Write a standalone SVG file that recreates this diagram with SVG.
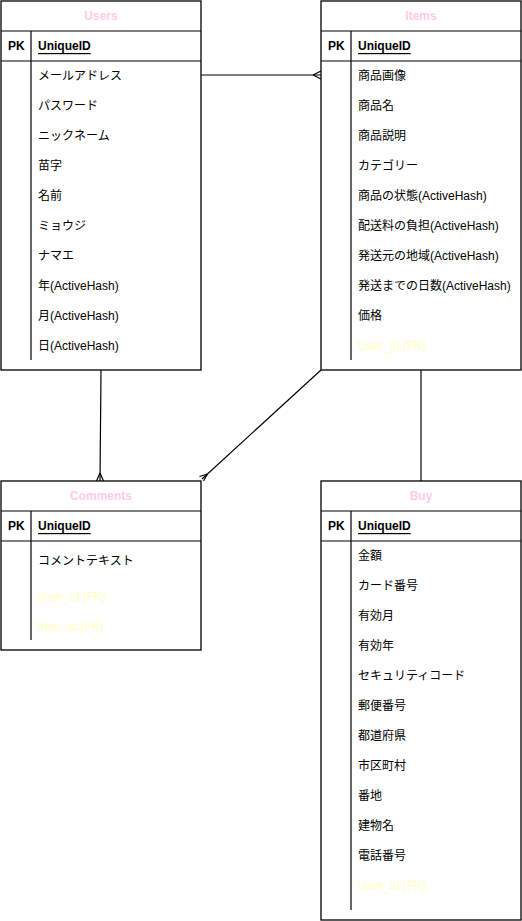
<svg xmlns="http://www.w3.org/2000/svg" width="522" height="921" viewBox="0 0 522 921">
<style>
text{font-family:"Liberation Sans","Noto Sans CJK JP",sans-serif;font-size:12px;fill:#000;dominant-baseline:central}
.t{font-weight:bold;fill:#FFCCE6;text-anchor:middle}
.b{font-weight:bold}
.u{font-weight:bold;text-decoration:underline}
.fk{fill:#FFFFC0}
.box{fill:#fff;stroke:#000;stroke-width:1.3}
.ln{stroke:#000;stroke-width:1.2;fill:none}
</style>
<rect width="522" height="921" fill="#fff"/>
<g id="connectors">
<path class="ln" d="M201 75H321"/>
<path class="ln" d="M313 75L321 71M313 75L321 79"/>
<path class="ln" d="M101 370L100 481"/>
<path class="ln" d="M100 473L96.5 481M100 473L103.5 481"/>
<path class="ln" d="M321 370L202 479"/>
<path class="ln" d="M207.5 474L199.5 476.5M207.5 474L203.5 481"/>
<path class="ln" d="M421 370V481"/>
</g>
<g id="users">
<rect class="box" x="1" y="1" width="200" height="369"/>
<path class="ln" d="M1 31H201M1 61H201M31 31V61M31 61V360"/>
<text class="t" x="101" y="16">Users</text>
<text class="b" x="8" y="46">PK</text>
<text class="u" x="38" y="46">UniqueID</text>
<text x="38" y="76">メールアドレス</text>
<text x="38" y="106">パスワード</text>
<text x="38" y="136">ニックネーム</text>
<text x="38" y="166">苗字</text>
<text x="38" y="196">名前</text>
<text x="38" y="226">ミョウジ</text>
<text x="38" y="256">ナマエ</text>
<text x="38" y="286">年(ActiveHash)</text>
<text x="38" y="316">月(ActiveHash)</text>
<text x="38" y="346">日(ActiveHash)</text>
</g>
<g id="items">
<rect class="box" x="321" y="1" width="200" height="369"/>
<path class="ln" d="M321 31H521M321 61H521M351 31V61M351 61V360"/>
<text class="t" x="421" y="16">Items</text>
<text class="b" x="328" y="46">PK</text>
<text class="u" x="358" y="46">UniqueID</text>
<text x="358" y="76">商品画像</text>
<text x="358" y="106">商品名</text>
<text x="358" y="136">商品説明</text>
<text x="358" y="166">カテゴリー</text>
<text x="358" y="196">商品の状態(ActiveHash)</text>
<text x="358" y="226">配送料の負担(ActiveHash)</text>
<text x="358" y="256">発送元の地域(ActiveHash)</text>
<text x="358" y="286">発送までの日数(ActiveHash)</text>
<text x="358" y="316">価格</text>
<text class="fk" x="358" y="346">User_id (FK)</text>
</g>
<g id="comments">
<rect class="box" x="1" y="481" width="200" height="169"/>
<path class="ln" d="M1 511H201M1 541H201M31 511V541M31 541V640"/>
<text class="t" x="101" y="496">Comments</text>
<text class="b" x="8" y="526">PK</text>
<text class="u" x="38" y="526">UniqueID</text>
<text x="38" y="561">コメントテキスト</text>
<text class="fk" x="38" y="597">User_id (FK)</text>
<text class="fk" x="38" y="627">Item_id (FK)</text>
</g>
<g id="buy">
<rect class="box" x="321" y="481" width="200" height="439"/>
<path class="ln" d="M321 511H521M321 541H521M351 511V541M351 541V910"/>
<text class="t" x="421" y="496">Buy</text>
<text class="b" x="328" y="526">PK</text>
<text class="u" x="358" y="526">UniqueID</text>
<text x="358" y="556">金額</text>
<text x="358" y="586">カード番号</text>
<text x="358" y="616">有効月</text>
<text x="358" y="646">有効年</text>
<text x="358" y="676">セキュリティコード</text>
<text x="358" y="706">郵便番号</text>
<text x="358" y="736">都道府県</text>
<text x="358" y="766">市区町村</text>
<text x="358" y="796">番地</text>
<text x="358" y="826">建物名</text>
<text x="358" y="856">電話番号</text>
<text class="fk" x="358" y="886">User_id (FK)</text>
</g>
</svg>
